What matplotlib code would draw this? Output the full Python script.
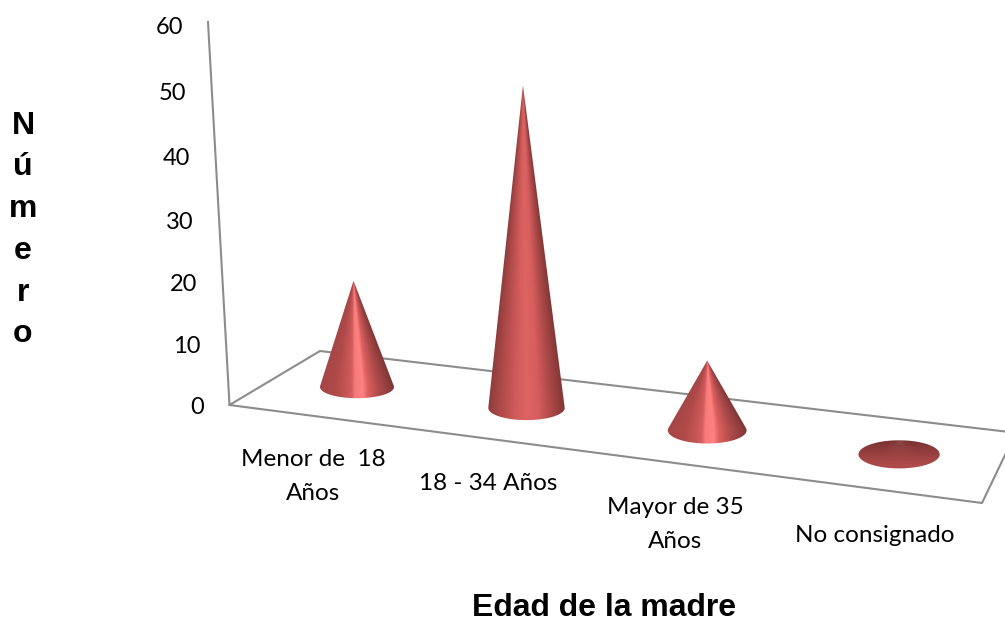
import matplotlib
matplotlib.use('Agg')
import matplotlib.pyplot as plt
import numpy as np
from matplotlib.colors import LinearSegmentedColormap
from matplotlib.patches import Polygon

categories = ['Menor de  18\nAños', '18 - 34 Años', 'Mayor de 35\nAños', 'No consignado']
values = [17, 50, 10.5, 2]
y_ticks = [0, 10, 20, 30, 40, 50, 60]

# colour across the cone surface, left edge to right edge
bright = [(0.0, '#a54646'), (0.2, '#b04a4a'), (0.36, '#c75656'), (0.43, '#d65e5e'),
          (0.47, '#f67a7a'), (0.58, '#ff8282'), (0.65, '#dc5f5f'), (0.8, '#ad4a4a'),
          (1.0, '#803636')]
soft = [(0.0, '#8f3c3c'), (0.15, '#ad4949'), (0.35, '#cf5a5a'), (0.5, '#de6363'),
        (0.65, '#d85e5e'), (0.82, '#ad4949'), (1.0, '#833636')]
cmaps = [LinearSegmentedColormap.from_list('bright', bright),
         LinearSegmentedColormap.from_list('soft', soft),
         LinearSegmentedColormap.from_list('bright', bright)]
flat_top = np.array([0x6c, 0x2c, 0x2c]) / 255
flat_bottom = np.array([0xb2, 0x4c, 0x4c]) / 255

grey = '#8c8c8c'


def base_of(i):
    # centre and radii of a cone base, the floor gets bigger towards the viewer
    xc = 357 + 163.9 * i + 5.6 * i ** 2
    yc = 387 + 20.2 * i + 0.75 * i ** 2
    return xc, yc, 37 + 1.2 * i, 11.2 + 0.95 * i


def draw_cone(ax, i, value):
    xc, yc, a, b = base_of(i)
    h = value * (6.25 + 0.2 * i)
    xa = xc - h * max(0, 0.033 - 0.022 * i)
    ya = yc - h

    px = (xa - xc) / a
    py = (ya - yc) / b
    dist = np.hypot(px, py)
    th = np.linspace(0, 2 * np.pi, 200)
    if dist <= 1:
        outline = np.column_stack([xc + a * np.cos(th), yc + b * np.sin(th)])
    else:
        # outline runs through the two tangent points on the base ellipse
        mid = np.arctan2(py, px)
        off = np.arccos(1 / dist)
        th = np.linspace(mid + off, mid + 2 * np.pi - off, 120)
        outline = np.vstack([[xa, ya], np.column_stack([xc + a * np.cos(th), yc + b * np.sin(th)])])
    patch = Polygon(outline, closed=True, fc='none', ec='none')
    ax.add_patch(patch)

    x0, x1 = xc - a - 2, xc + a + 2
    y0, y1 = min(ya, yc - b) - 2, yc + b + 2
    xs, ys = np.meshgrid(np.linspace(x0, x1, 300), np.linspace(y0, y1, 900))
    if dist <= 1:
        v = np.clip((ys - (yc - b)) / (2 * b), 0, 1)[..., None]
        img = flat_top + (flat_bottom - flat_top) * v ** 0.7
        ridge = np.exp(-((xs - xa) / (3 + 0.9 * (ys - ya).clip(0))) ** 2) * np.exp(-(ys - ya).clip(0) / 6)
        img = np.clip(img + 0.1 * ridge[..., None], 0, 1)
    else:
        # shade by where the ray from the apex lands on the base
        half = np.maximum(a * (ys - ya) / (yc - ya), 0.01)
        centre = xa + (xc - xa) * (ys - ya) / (yc - ya)
        low = ys > yc
        half[low] = a
        centre[low] = xc
        t = np.clip((xs - centre) / half, -1, 1)
        img = cmaps[i]((t + 1) / 2)[..., :3]
    im = ax.imshow(img, extent=(x0, x1, y1, y0), aspect='auto', zorder=3, interpolation='bilinear')
    im.set_clip_path(patch)


fig = plt.figure(figsize=(10.05, 6.18), dpi=100)
ax = fig.add_axes([0, 0, 1, 1])

# floor and back wall edge
ax.plot([208, 229.5, 320, 1005], [22, 405, 351, 431.5], color=grey, lw=1.5, zorder=1)
ax.plot([229.5, 982, 1005], [405, 503, 455], color=grey, lw=1.5, zorder=1)

for i, value in enumerate(values):
    draw_cone(ax, i, value)

ax.set_xlim(0, 1005)
ax.set_ylim(618, 0)
ax.axis('off')

for tick in y_ticks:
    ax.text(204 - 0.35 * tick, 407 - 6.0 * tick - 0.0055 * tick ** 2, str(tick),
            ha='right', va='center', fontsize=17, family='Lato', color='black')

cat_x = [313, 488, 675, 875]
cat_y = [476.5, 483, 524.5, 536]
for x, y, label in zip(cat_x, cat_y, categories):
    ax.text(x, y, label, ha='center', va='center', fontsize=17.5, family='Lato',
            color='black', linespacing=1.73)

ax.text(604.5, 615.5, 'Edad de la madre', ha='center', va='baseline', fontsize=23,
        fontweight='bold', family='Liberation Sans', color='black')
ax.text(23, 230, 'N\nú\nm\ne\nr\no', ha='center', va='center', fontsize=23,
        fontweight='bold', family='Liberation Sans', color='black', linespacing=1.51)

fig.savefig('out.png', dpi=100)
